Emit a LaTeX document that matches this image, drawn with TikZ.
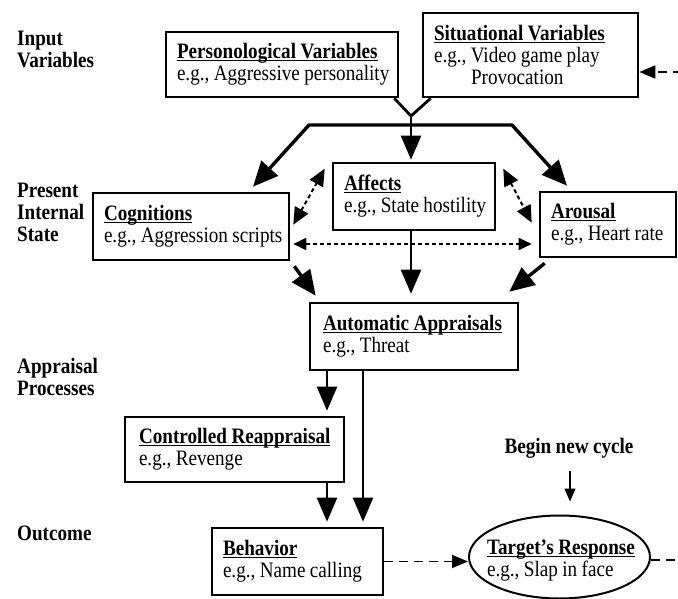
\documentclass[tikz,border=0pt]{standalone}
\usepackage{fontspec}
\setmainfont{Liberation Serif}[FakeStretch=0.87]
\usetikzlibrary{arrows.meta,shapes.geometric,calc}
\newsavebox\ttlbox
\newcommand\ttl[1]{\leavevmode\sbox\ttlbox{\bfseries\spaceskip=4.6pt\xspaceskip=4.6pt\relax #1}\rlap{\rule[-2.4pt]{\wd\ttlbox}{1.4pt}}\usebox\ttlbox}
\newcommand\tln[1]{\mbox{\spaceskip=4.4pt\xspaceskip=4.4pt\relax #1}}
\newcommand\dgfont{\fontsize{22}{22}\selectfont\frenchspacing\spaceskip=4.4pt\relax}
\tikzset{
  box/.style={draw, line width=2.6pt, align=left, inner xsep=11pt, inner ysep=0pt,
    font=\dgfont},
  lbl/.style={font=\dgfont\bfseries, align=left, anchor=west, inner sep=0pt},
  marr/.style={line width=3.4pt, -{Triangle[width=22pt,length=25pt]}},
  varr/.style={line width=2.4pt, -{Triangle[width=20pt,length=24pt]}},
  plain/.style={line width=2.8pt},
  dotarr/.style={line width=2pt, dash pattern=on 4pt off 3pt,
    {Triangle[width=15pt,length=17pt]}-{Triangle[width=15pt,length=17pt]}},
  hdotarr/.style={line width=1.8pt, dash pattern=on 4pt off 3pt,
    {Triangle[width=12pt,length=13pt]}-{Triangle[width=12pt,length=13pt]}},
  dasharr/.style={line width=1.6pt, dash pattern=on 9pt off 6pt, -{Triangle[width=13pt,length=16pt]}},
  dashln/.style={line width=1.6pt, dash pattern=on 9pt off 6pt},
  smallarr/.style={line width=1.4pt, -{Triangle[width=11pt,length=13pt]}}
}
\begin{document}
\begin{tikzpicture}[x=1pt,y=-1pt]
\path[use as bounding box] (0,0) rectangle (678,599);

% left labels
\node[lbl] (lin) at (17,49) {Input\\Variables};
\node[lbl] (lpr) at (17,212) {Present\\Internal\\State};
\node[lbl] (lap) at (17,377) {Appraisal\\Processes};
\node[lbl] (lout) at (17,533) {Outcome};

% boxes
\node[box, text width=210pt, minimum height=65pt] (pers) at (282,64.5)
  {\ttl{Personological Variables}\\\tln{e.g., Aggressive personality}};
\node[box, text width=193pt, minimum height=84pt] (sit) at (530.5,55)
  {\ttl{Situational Variables}\\\tln{e.g., Video game play}\\\hspace*{37pt}Provocation};
\node[box, text width=174pt, minimum height=67pt] (cog) at (191,226.5)
  {\ttl{Cognitions}\\\tln{e.g., Aggression scripts}};
\node[box, text width=140pt, minimum height=67pt] (aff) at (414,196.5)
  {\ttl{Affects}\\\tln{e.g., State hostility}};
\node[box, text width=114pt, minimum height=65pt] (aro) at (608,224.5)
  {\ttl{Arousal}\\\tln{e.g., Heart rate}};
\node[box, inner xsep=13pt, text width=182pt, minimum height=67pt] (auto) at (414,336.5)
  {\ttl{Automatic Appraisals}\\\tln{e.g., Threat}};
\node[box, inner xsep=14pt, text width=191pt, minimum height=65pt] (ctrl) at (234.5,449.5)
  {\ttl{Controlled Reappraisal}\\\tln{e.g., Revenge}};
\node[box, text width=149pt, minimum height=67pt] (beh) at (297.5,561.5)
  {\ttl{Behavior}\\\tln{e.g., Name calling}};
\node[ellipse, draw, line width=2pt, minimum width=181pt, minimum height=83pt, inner sep=0pt] (tr) at (559.5,557) {};
\node[align=left, inner sep=0pt, font=\dgfont] (trt) at (561,561)
  {\ttl{Target's Response}\\\tln{e.g., Slap in face}};
\node[font=\dgfont\bfseries, inner sep=0pt] (bnc) at (569,448) {\tln{Begin new cycle}};

% helper coordinates
\coordinate (jn) at (411,116);
\coordinate (barC) at (411,125);
\coordinate (barL) at (309,125);
\coordinate (barR) at (512,125);
\coordinate (c1) at (327,0);
\coordinate (c2) at (363,0);
\coordinate (cx) at (570,0);
\coordinate (edgeA) at (682,72);
\coordinate (edgeB) at (682,560);

% input junction
\draw[plain, line join=miter] ([shift={(-5,0)}]pers.south east) -- (jn) -- ([shift={(9,0)}]sit.south west);
\draw[plain] (jn) -- (barC);
\draw[plain] (barL) -- (barR);
\draw[varr, shorten >=2pt] (barC) -- (barC |- aff.north);
\draw[marr, line join=round] (barC) -- (barL) -- ([shift={(62,-5)}]cog.north);
\draw[marr, line join=round] (barC) -- (barR) -- ([shift={(-41,-5)}]aro.north);

% internal state dotted links
\draw[dotarr] ([shift={(3,33)}]cog.north east) -- ([shift={(-7,7)}]aff.north west);
\draw[dotarr] ([shift={(7,7)}]aff.north east) -- ([shift={(-7,32)}]aro.north west);
\draw[hdotarr] ([shift={(3,17.5)}]cog.east) -- ([shift={(-7,19.5)}]aro.west);

% to automatic appraisals
\draw[marr] ([shift={(4,5)}]cog.south east) -- ([shift={(7,-6)}]auto.north west);
\draw[varr, shorten >=8pt] (aff.south -| barC) -- (auto.north -| barC);
\draw[marr] ([shift={(6,5)}]aro.south west) -- ([shift={(-10,-10)}]auto.north east);

% appraisal to outcome
\draw[varr, shorten >=5pt] (auto.south -| c1) -- (ctrl.north -| c1);
\draw[varr, shorten >=5pt] (ctrl.south -| c1) -- (beh.north -| c1);
\draw[varr, shorten >=5pt] (auto.south -| c2) -- (beh.north -| c2);

% outcome cycle
\draw[dasharr] (beh.east) -- (beh.east -| tr.west);
\draw[dashln] (tr.east |- edgeB) -- (edgeB);
\draw[dasharr] (edgeA) -- (sit.east |- edgeA);
\draw[smallarr, shorten <=13pt, shorten >=13pt] (bnc.south -| cx) -- (tr.north -| cx);
\end{tikzpicture}
\end{document}
